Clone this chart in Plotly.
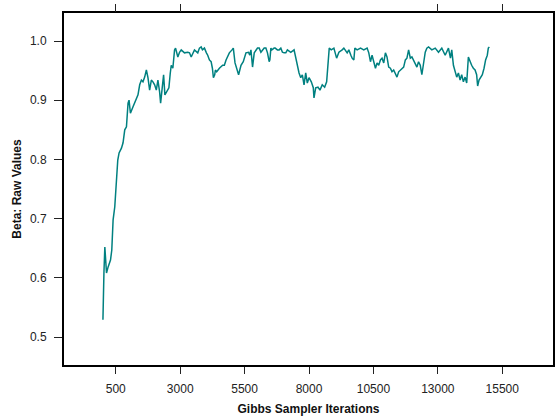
import plotly.graph_objects as go

iterations = [1, 10, 40, 75, 140, 200, 250, 295, 345, 396, 461, 527, 577, 628, 720, 782, 848, 914, 976, 1014,
              1068, 1169, 1300, 1362, 1428, 1494, 1555, 1621, 1687, 1749, 1814, 1880, 1942, 2008, 2073, 2135, 2201, 2240, 2305, 2356,
              2406, 2483, 2561, 2615, 2653, 2715, 2781, 2820, 2908, 2974, 3040, 3167, 3295, 3361, 3427, 3554, 3682, 3747, 3813, 3863,
              3941, 4018, 4068, 4134, 4200, 4250, 4289, 4339, 4366, 4416, 4521, 4648, 4714, 4780, 4907, 5011, 5062, 5128, 5190, 5267,
              5360, 5448, 5553, 5653, 5700, 5746, 5808, 5874, 6001, 6067, 6133, 6195, 6260, 6326, 6388, 6454, 6481, 6520, 6558, 6647,
              6686, 6775, 6840, 6906, 6968, 7033, 7099, 7161, 7292, 7420, 7486, 7548, 7613, 7679, 7741, 7807, 7872, 7934, 8000, 8089,
              8166, 8193, 8259, 8348, 8425, 8514, 8607, 8684, 8735, 8785, 8862, 8966, 9071, 9160, 9287, 9353, 9481, 9546, 9624, 9674,
              9740, 9779, 9868, 9999, 10126, 10254, 10320, 10385, 10447, 10513, 10579, 10641, 10706, 10772, 10834, 10900, 10965, 11027, 11093, 11159,
              11221, 11286, 11352, 11414, 11479, 11545, 11607, 11673, 11739, 11800, 11866, 11932, 11994, 12059, 12125, 12187, 12252, 12318, 12380, 12446,
              12511, 12573, 12639, 12767, 12898, 13026, 13154, 13285, 13412, 13490, 13540, 13605, 13671, 13733, 13799, 13864, 13926, 13992, 14058, 14120,
              14185, 14251, 14313, 14379, 14445, 14506, 14545, 14599, 14661, 14727, 14793, 14854, 14920, 14959, 15000]

beta = [0.529, 0.579, 0.608, 0.652, 0.608, 0.618, 0.627, 0.630, 0.647, 0.698, 0.720, 0.765, 0.799, 0.811, 0.819, 0.828, 0.850, 0.855, 0.895, 0.900,
        0.878, 0.889, 0.904, 0.909, 0.926, 0.934, 0.931, 0.939, 0.951, 0.938, 0.917, 0.934, 0.931, 0.926, 0.917, 0.934, 0.914, 0.895, 0.922, 0.943,
        0.909, 0.914, 0.921, 0.946, 0.959, 0.954, 0.985, 0.988, 0.973, 0.981, 0.985, 0.980, 0.981, 0.980, 0.973, 0.985, 0.980, 0.988, 0.990, 0.985,
        0.988, 0.980, 0.976, 0.968, 0.965, 0.954, 0.938, 0.943, 0.951, 0.948, 0.954, 0.959, 0.959, 0.968, 0.980, 0.985, 0.988, 0.963, 0.954, 0.943,
        0.959, 0.965, 0.980, 0.981, 0.976, 0.985, 0.956, 0.980, 0.988, 0.988, 0.981, 0.985, 0.988, 0.988, 0.980, 0.965, 0.968, 0.988, 0.985, 0.988,
        0.988, 0.985, 0.985, 0.988, 0.981, 0.980, 0.980, 0.985, 0.981, 0.985, 0.971, 0.954, 0.946, 0.938, 0.943, 0.926, 0.946, 0.929, 0.938, 0.931,
        0.921, 0.904, 0.921, 0.922, 0.917, 0.926, 0.922, 0.931, 0.971, 0.988, 0.985, 0.988, 0.971, 0.981, 0.985, 0.988, 0.980, 0.985, 0.976, 0.971,
        0.968, 0.988, 0.985, 0.988, 0.985, 0.988, 0.980, 0.965, 0.976, 0.965, 0.954, 0.963, 0.959, 0.968, 0.971, 0.963, 0.980, 0.973, 0.956, 0.954,
        0.948, 0.951, 0.946, 0.939, 0.948, 0.951, 0.954, 0.956, 0.968, 0.971, 0.985, 0.971, 0.973, 0.968, 0.963, 0.956, 0.965, 0.959, 0.943, 0.959,
        0.981, 0.988, 0.990, 0.985, 0.988, 0.981, 0.988, 0.976, 0.988, 0.971, 0.985, 0.959, 0.948, 0.939, 0.946, 0.934, 0.943, 0.931, 0.939, 0.929,
        0.973, 0.965, 0.959, 0.954, 0.951, 0.943, 0.924, 0.934, 0.938, 0.943, 0.954, 0.968, 0.976, 0.988, 0.990]

x_ticks = [500, 3000, 5500, 8000, 10500, 13000, 15500]
x_top_ticks = [500, 3000, 13000, 15500]
y_ticks = [0.5, 0.6, 0.7, 0.8, 0.9, 1.0]

x_range = [-1510, 17470]
y_range = [0.4527, 1.0473]

fig = go.Figure()
fig.add_trace(go.Scatter(x=iterations, y=beta, mode="lines",
                         line=dict(color="#008080", width=1.5), showlegend=False))

font = dict(family="Liberation Sans, Arial, sans-serif", size=12, color="#222222")

fig.update_layout(
    width=555, height=420,
    margin=dict(l=64, r=0, t=13, b=55),
    paper_bgcolor="white", plot_bgcolor="white",
    font=font,
    xaxis=dict(range=x_range, tickvals=x_ticks, ticktext=[str(v) for v in x_ticks],
               ticks="outside", ticklen=7, tickwidth=1, tickcolor="#222",
               ticklabelstandoff=5,
               showline=True, linecolor="black", linewidth=2, mirror=True,
               showgrid=False, zeroline=False,
               title=dict(text="<b>Gibbs Sampler Iterations</b>", standoff=9,
                          font=dict(size=12, color="#111"))),
    xaxis2=dict(range=x_range, overlaying="x", side="top", anchor="y",
                tickvals=x_top_ticks, showticklabels=False,
                ticks="outside", ticklen=8, tickwidth=1, tickcolor="#222",
                showline=False, showgrid=False, zeroline=False),
    yaxis=dict(range=y_range, tickvals=y_ticks, tickformat=".1f",
               ticks="outside", ticklen=8, tickwidth=1, tickcolor="#222",
               ticklabelstandoff=5,
               showline=True, linecolor="black", linewidth=2, mirror=True,
               showgrid=False, zeroline=False,
               title=dict(text="<b>Beta: Raw Values</b>", standoff=6,
                          font=dict(size=12, color="#111"))),
)
fig.add_trace(go.Scatter(x=[x_range[0]], y=[y_range[0]], xaxis="x2", mode="markers",
                         marker=dict(opacity=0), showlegend=False, hoverinfo="skip"))

fig.write_html("out.html")
